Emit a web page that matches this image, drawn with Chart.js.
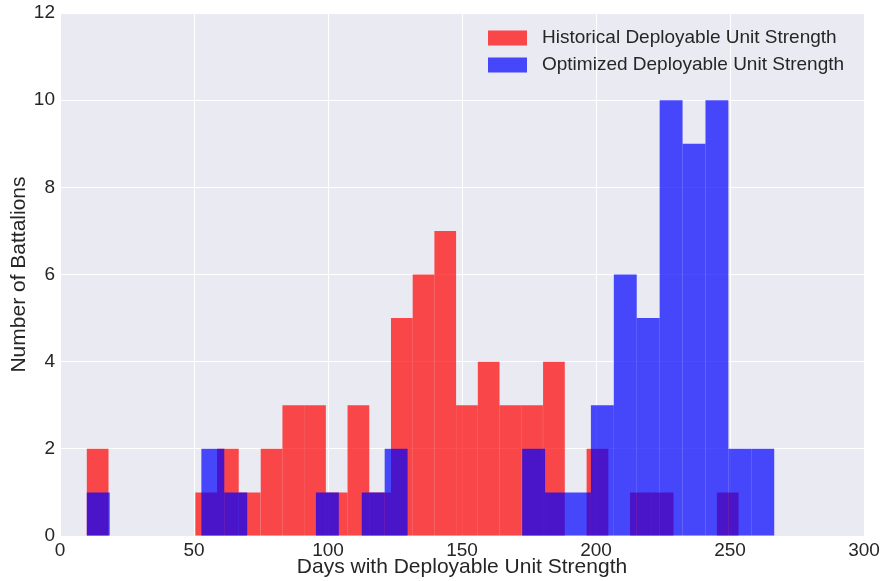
<!DOCTYPE html>
<html>
<head>
<meta charset="utf-8">
<script src="https://cdn.jsdelivr.net/npm/chart.js@4.4.1/dist/chart.umd.min.js"></script>
<style>
  html, body { margin: 0; padding: 0; background: #ffffff; }
  #wrap { width: 883px; height: 581px; }
</style>
</head>
<body>
<div id="wrap"><canvas id="hist"></canvas></div>
<script>
// bin edges (30 bins each)
const historicalEdges = [10, 18.1, 26.2, 34.3, 42.4, 50.5, 58.6, 66.7, 74.9, 83.0, 91.1,
  99.2, 107.3, 115.4, 123.5, 131.6, 139.7, 147.8, 155.9, 164.0, 172.1,
  180.2, 188.4, 196.5, 204.6, 212.7, 220.8, 228.9, 237.0, 245.1, 253.2];
const historicalCounts = [2, 0, 0, 0, 0, 1, 2, 1, 2, 3, 3, 1, 3, 1, 5, 6, 7, 3, 4, 3,
  3, 4, 0, 2, 0, 1, 1, 0, 0, 1];

const optimizedEdges = [10, 18.55, 27.1, 35.65, 44.2, 52.75, 61.3, 69.85, 78.4, 86.95, 95.5,
  104.05, 112.6, 121.15, 129.7, 138.25, 146.8, 155.35, 163.9, 172.45, 181.0,
  189.55, 198.1, 206.65, 215.2, 223.75, 232.3, 240.85, 249.4, 257.95, 266.5];
const optimizedCounts = [1, 0, 0, 0, 0, 2, 1, 0, 0, 0, 1, 0, 1, 2, 0, 0, 0, 0, 0, 2,
  1, 1, 3, 6, 5, 10, 9, 10, 2, 2];

const xTicks = [0, 50, 100, 150, 200, 250, 300];
const yTicks = [0, 2, 4, 6, 8, 10, 12];

const FONT = '"Liberation Sans", Arial, sans-serif';
const INK = '#262626';

// bars sit at the middle of each bin, empty bins left blank
function toBars(edges, counts) {
  return counts.map((c, i) => ({ x: (edges[i] + edges[i + 1]) / 2, y: c === 0 ? null : c }));
}

// legend drawn inside the plot, top right, like matplotlib
const insideLegend = {
  id: 'insideLegend',
  afterDraw(chart) {
    const ctx = chart.ctx;
    ctx.save();
    ctx.font = '19px ' + FONT;
    ctx.textBaseline = 'middle';
    chart.data.datasets.forEach((ds, i) => {
      const y = 38 + i * 27;
      ctx.fillStyle = ds.backgroundColor;
      ctx.fillRect(488, y - 7.5, 39, 15);
      ctx.fillStyle = INK;
      ctx.fillText(ds.label, 542, y);
    });
    ctx.restore();
  }
};

const plotBg = {
  id: 'plotBg',
  beforeDraw(chart) {
    const a = chart.chartArea;
    chart.ctx.save();
    chart.ctx.fillStyle = '#EAEAF2';
    chart.ctx.fillRect(a.left, a.top, a.right - a.left, a.bottom - a.top);
    chart.ctx.restore();
  }
};

const barOpts = {
  grouped: false,
  barPercentage: 1,
  categoryPercentage: 1,
  borderWidth: 0,
  inflateAmount: 0
};

new Chart(document.getElementById('hist'), {
  type: 'bar',
  data: {
    datasets: [
      Object.assign({
        label: 'Historical Deployable Unit Strength',
        data: toBars(historicalEdges, historicalCounts),
        backgroundColor: 'rgba(255, 0, 0, 0.7)',
        xAxisID: 'x',
        order: 1
      }, barOpts),
      Object.assign({
        label: 'Optimized Deployable Unit Strength',
        data: toBars(optimizedEdges, optimizedCounts),
        backgroundColor: 'rgba(0, 0, 255, 0.7)',
        xAxisID: 'x2',
        order: 0
      }, barOpts)
    ]
  },
  options: {
    responsive: true,
    maintainAspectRatio: false,
    animation: false,
    layout: { padding: { top: 13, right: 19, left: 0, bottom: 0 } },
    plugins: {
      legend: { display: false },
      tooltip: { enabled: false }
    },
    scales: {
      x: {
        type: 'linear',
        min: 0,
        max: 300,
        offset: false,
        afterBuildTicks: s => { s.ticks = xTicks.map(v => ({ value: v })); },
        afterFit: s => { s.height = 45; s.paddingLeft = 0; s.paddingRight = 0; },
        border: { display: false },
        grid: { color: '#ffffff', lineWidth: 1, drawTicks: false, offset: false },
        ticks: { color: INK, padding: 3, font: { family: FONT, size: 19 } },
        title: {
          display: true,
          text: 'Days with Deployable Unit Strength',
          color: INK,
          font: { family: FONT, size: 21 },
          padding: { top: 1, bottom: 1 }
        }
      },
      x2: {
        type: 'linear',
        min: 0,
        max: 300,
        offset: false,
        display: false
      },
      y: {
        min: 0,
        max: 12,
        afterBuildTicks: s => { s.ticks = yTicks.map(v => ({ value: v })); },
        afterFit: s => { s.width = 60; s.paddingTop = 0; s.paddingBottom = 0; },
        border: { display: false },
        grid: { color: '#ffffff', lineWidth: 1, drawTicks: false },
        ticks: { color: INK, padding: 5, font: { family: FONT, size: 19 } },
        title: {
          display: true,
          text: 'Number of Battalions',
          color: INK,
          font: { family: FONT, size: 21 },
          padding: { top: 7, bottom: 7 }
        }
      }
    }
  },
  plugins: [plotBg, insideLegend]
});
</script>
</body>
</html>
